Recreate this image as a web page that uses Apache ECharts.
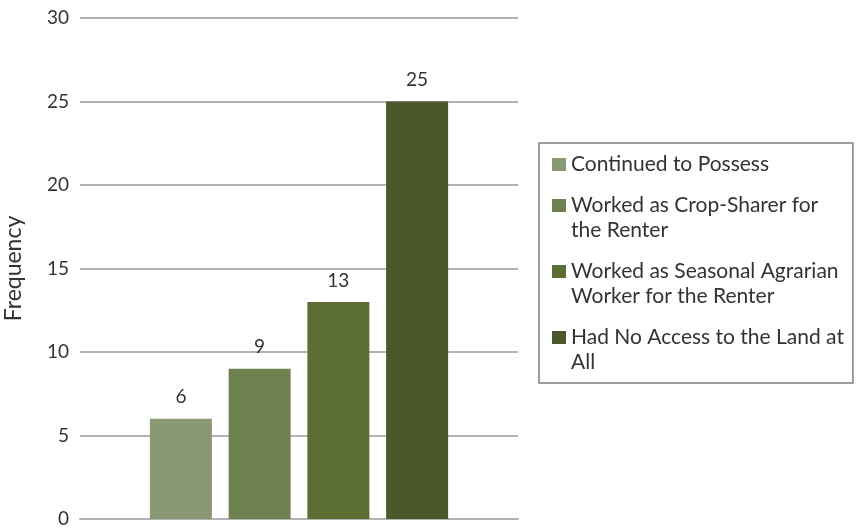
<!DOCTYPE html>
<html>
<head>
<meta charset="utf-8">
<script src="https://cdn.jsdelivr.net/npm/echarts@6/dist/echarts.min.js"></script>
<style>
  html, body { margin: 0; padding: 0; background: #ffffff; }
  #chart { width: 857px; height: 528px; }
</style>
</head>
<body>
<div id="chart"></div>
<script>
// Outcome groups and how many respondents fell into each
const groups = [
  'Continued to Possess',
  'Worked as Crop-Sharer for the Renter',
  'Worked as Seasonal Agrarian Worker for the Renter',
  'Had No Access to the Land at All'
];
// Legend text broken onto lines as it is laid out in the key
const legendLines = {
  'Continued to Possess': ['Continued to Possess'],
  'Worked as Crop-Sharer for the Renter': ['Worked as Crop-Sharer for', 'the Renter'],
  'Worked as Seasonal Agrarian Worker for the Renter': ['Worked as Seasonal Agrarian', 'Worker for the Renter'],
  'Had No Access to the Land at All': ['Had No Access to the Land at', 'All']
};
const frequencies = [6, 9, 13, 25];
const barColors = ['#8a9873', '#6e8250', '#5c6e34', '#4a582c'];
const yTicks = { min: 0, max: 30, step: 5 };

const FONT = 'Lato';
const TEXT = '#333333';

const chart = echarts.init(document.getElementById('chart'), null, { renderer: 'canvas' });

const series = groups.map((g, i) => ({
  name: g,
  type: 'bar',
  data: [frequencies[i]],
  barWidth: 62,
  barGap: '27%',
  itemStyle: { color: barColors[i] },
  label: {
    show: true,
    position: 'top',
    distance: 12,
    fontFamily: FONT,
    fontSize: 19,
    color: TEXT
  }
}));

chart.setOption({
  backgroundColor: '#ffffff',
  animation: false,
  grid: {
    left: 80, right: 339, top: 18, bottom: 9,
    containLabel: false,
    outerBoundsMode: 'none'
  },
  xAxis: {
    type: 'category',
    data: [''],
    axisLine: { show: true, lineStyle: { color: '#b3b3b3', width: 2 } },
    axisTick: { show: false },
    axisLabel: { show: false },
    splitLine: { show: false }
  },
  yAxis: {
    type: 'value',
    min: yTicks.min,
    max: yTicks.max,
    interval: yTicks.step,
    name: 'Frequency',
    nameLocation: 'middle',
    nameGap: 55,
    nameTextStyle: { fontFamily: FONT, fontSize: 23, color: TEXT },
    axisLine: { show: false },
    axisTick: { show: false },
    axisLabel: { fontFamily: FONT, fontSize: 19, color: TEXT, margin: 11 },
    splitLine: { show: true, lineStyle: { color: '#b3b3b3', width: 2 } }
  },
  legend: {
    orient: 'vertical',
    left: 539,
    top: 143,
    padding: [9, 9, 8, 13],
    itemGap: -9,
    itemWidth: 14,
    itemHeight: 13,
    icon: 'rect',
    borderColor: '#7f7f7f',
    borderWidth: 1.5,
    data: groups,
    formatter: name => {
      const lines = legendLines[name];
      // a leading blank line keeps the swatch beside the first line of wrapped entries
      return lines.length > 1 ? '\n' + lines.join('\n') : lines[0];
    },
    textStyle: { fontFamily: FONT, fontSize: 21, color: TEXT, lineHeight: 25 }
  },
  series: series
});
</script>
</body>
</html>
